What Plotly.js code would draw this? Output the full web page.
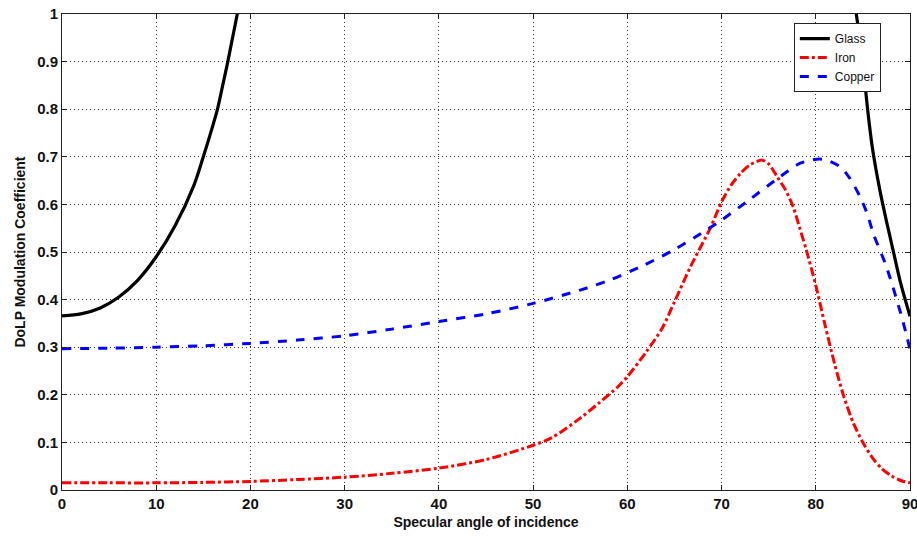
<!DOCTYPE html>
<html>
<head>
<meta charset="utf-8">
<script src="https://cdn.plot.ly/plotly-3.0.1.min.js"></script>
<style>html,body{margin:0;padding:0;background:#fff;}#chart{width:917px;height:537px;}</style>
</head>
<body>
<div id="chart"></div>
<script>
// Glass (two branches separated by a gap)
const glassX = [0, 2, 4, 6, 8, 10, 12, 14, 15, 16, 16.5, 17, 17.6, 18, 18.6, 19,
                null,
                84, 84.3, 84.9, 85.5, 86, 86.8, 87.5, 88.2, 89, 90];
const glassY = [0.366, 0.37, 0.382, 0.405, 0.44, 0.49, 0.555, 0.64, 0.70, 0.765, 0.80, 0.845, 0.90, 0.94, 1.0, 1.05,
                null,
                1.04, 1.0, 0.915, 0.80, 0.72, 0.63, 0.565, 0.504, 0.435, 0.365];

const ironX = [0, 5, 10, 15, 20, 25, 30, 35, 40, 45, 50, 52, 55, 57, 59, 60, 62, 63.7, 65, 66.7, 68.8, 70, 71, 72, 73, 74.3, 75, 75.9, 76.8, 77.6, 78.3, 79, 80, 81, 82, 83, 84, 85, 86, 87, 88, 89, 90];
const ironY = [0.015, 0.015, 0.015, 0.016, 0.018, 0.022, 0.027, 0.035, 0.046, 0.064, 0.094, 0.11, 0.151, 0.183, 0.217, 0.238, 0.29, 0.34, 0.395, 0.469, 0.55, 0.605, 0.64, 0.665, 0.683, 0.693, 0.685, 0.658, 0.63, 0.595, 0.55, 0.504, 0.43, 0.345, 0.265, 0.195, 0.14, 0.10, 0.068, 0.045, 0.03, 0.02, 0.015];

const copperX = [0, 5, 10, 15, 20, 25, 30, 35, 40, 45, 50, 55, 58, 61.4, 64.9, 68.4, 70, 72.7, 76.2, 78.3, 80.1, 81, 82.6, 83.6, 84.7, 85.5, 86.1, 87.5, 89, 89.7, 90];
const copperY = [0.297, 0.298, 0.300, 0.303, 0.308, 0.315, 0.324, 0.338, 0.354, 0.37, 0.392, 0.42, 0.44, 0.469, 0.504, 0.546, 0.567, 0.606, 0.658, 0.686, 0.695, 0.694, 0.679, 0.655, 0.616, 0.578, 0.539, 0.469, 0.372, 0.32, 0.295];

const xTicks = [0, 10, 20, 30, 40, 50, 60, 70, 80, 90];
const yTicks = [0, 0.1, 0.2, 0.3, 0.4, 0.5, 0.6, 0.7, 0.8, 0.9, 1];
const yTickText = ['0', '0.1', '0.2', '0.3', '0.4', '0.5', '0.6', '0.7', '0.8', '0.9', '1'];

const traces = [
  {x: glassX, y: glassY, name: 'Glass', mode: 'lines', connectgaps: false,
   line: {color: '#000000', width: 3.2, dash: 'solid', shape: 'spline', smoothing: 0.8}},
  {x: ironX, y: ironY, name: 'Iron', mode: 'lines',
   line: {color: '#ff0000', width: 3, dash: 'dashdot', shape: 'spline', smoothing: 0.8}},
  {x: copperX, y: copperY, name: 'Copper', mode: 'lines',
   line: {color: '#0000ff', width: 3, dash: 'dash', shape: 'spline', smoothing: 0.8}}
];

const axisCommon = {
  showline: true, linecolor: '#222', linewidth: 1, mirror: 'ticks',
  ticks: 'inside', ticklen: 5, tickcolor: '#222', tickwidth: 1,
  showgrid: true, gridcolor: '#333', griddash: '1px,3px', gridwidth: 1,
  zeroline: false, ticklabeloverflow: 'allow',
  tickfont: {family: 'Liberation Sans, Arial, sans-serif', size: 15, color: '#111', weight: 'bold'}
};

const layout = {
  width: 917, height: 537,
  margin: {l: 62, r: 7, t: 14, b: 47},
  paper_bgcolor: '#ffffff', plot_bgcolor: '#ffffff',
  showlegend: true,
  xaxis: Object.assign({}, axisCommon, {
    range: [0, 90], tickvals: xTicks, ticktext: xTicks.map(String),
    title: {text: 'Specular angle of incidence', standoff: 6,
            font: {family: 'Liberation Sans, Arial, sans-serif', size: 14, color: '#111', weight: 'bold'}}
  }),
  yaxis: Object.assign({}, axisCommon, {
    range: [0, 1], tickvals: yTicks, ticktext: yTickText,
    title: {text: 'DoLP Modulation Coefficient', standoff: 8,
            font: {family: 'Liberation Sans, Arial, sans-serif', size: 14, color: '#111', weight: 'bold'}}
  }),
  legend: {
    x: 0.863, y: 0.981, xanchor: 'left', yanchor: 'top',
    bgcolor: '#ffffff', bordercolor: '#222', borderwidth: 1,
    font: {family: 'Liberation Sans, Arial, sans-serif', size: 12, color: '#111'},
    tracegroupgap: 0, itemwidth: 30
  }
};

Plotly.newPlot('chart', traces, layout, {displayModeBar: false, staticPlot: true});
</script>
</body>
</html>
